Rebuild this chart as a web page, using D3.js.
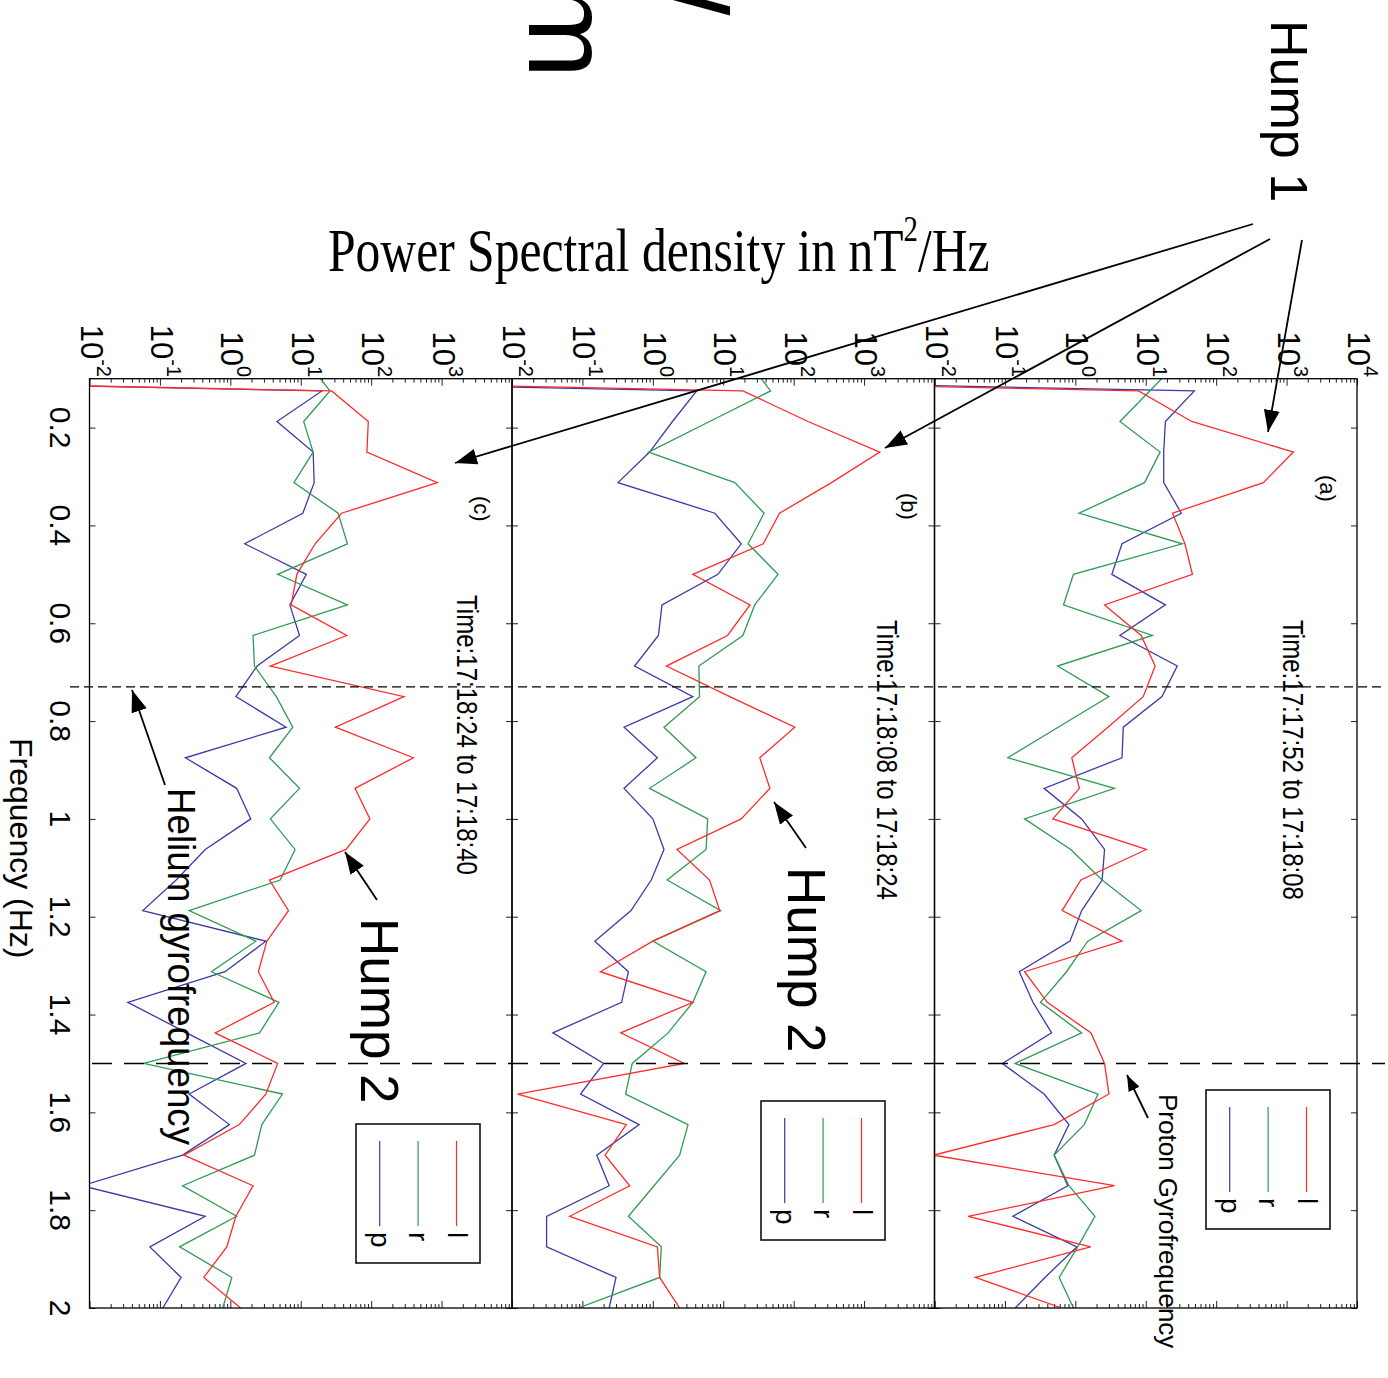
<!DOCTYPE html>
<html>
<head>
<meta charset="utf-8">
<script src="https://cdn.jsdelivr.net/npm/d3@7"></script>
<style>
  body { margin: 0; background: #fff; }
  svg { display: block; }
</style>
</head>
<body>
<div id="chart"></div>
<script>
const width = 1388;
const height = 1378;

// frequency bins (Hz)
const freqs = [0.0625, 0.125, 0.1875, 0.25, 0.3125, 0.375, 0.4375, 0.5, 0.5625, 0.625, 0.6875, 0.75,
  0.8125, 0.875, 0.9375, 1.0, 1.0625, 1.125, 1.1875, 1.25, 1.3125, 1.375, 1.4375, 1.5,
  1.5625, 1.625, 1.6875, 1.75, 1.8125, 1.875, 1.9375, 2.0];

// PSD in nT^2/Hz, panel (a) 17:17:52 to 17:18:08
const lA = [1e-20, 7.9, 45, 1250, 469, 24, 36, 46, 2.6, 8.6, 13.6, 9.2, 2.9, 0.89, 1.14, 0.48,
  10.2, 1.2, 0.65, 4.6, 0.19, 0.40, 1.67, 2.6, 3.0, 0.50, 0.0096, 3.6, 0.030, 1.65, 0.038, 0.64];
const rA = [30, 11.4, 4.3, 16, 9.6, 1.13, 33, 0.94, 0.68, 12.4, 0.56, 3.0, 0.57, 0.11, 3.6, 0.19,
  0.86, 2.4, 8.6, 1.5, 0.75, 0.32, 1.23, 0.14, 2.1, 1.34, 0.50, 0.81, 1.9, 1.08, 0.59, 0.94];
const pA = [1e-20, 49, 19, 18, 18, 32, 4.6, 3.3, 19, 4.3, 28, 17, 4.8, 4.6, 0.36, 1.23,
  2.6, 2.4, 1.23, 0.84, 0.16, 0.25, 0.46, 0.092, 0.36, 0.81, 0.50, 0.78, 0.13, 1.05, 0.37, 0.14];

// panel (b) 17:18:08 to 17:18:24
const lB = [1e-20, 19, 160, 1670, 344, 63, 37, 3.7, 24, 11.5, 1.56, 12.4, 104, 33, 46, 18,
  2.2, 6.4, 8.9, 1.0, 0.18, 3.7, 0.35, 2.8, 0.012, 0.42, 0.21, 0.47, 0.066, 1.16, 1.25, 2.4];
const rB = [22, 47, 6.4, 0.87, 14.6, 38, 22.5, 60, 28, 19, 4.5, 4.6, 1.44, 4.1, 0.90, 6.0,
  5.7, 1.6, 9.2, 1.0, 5.7, 3.7, 1.65, 0.51, 0.41, 3.16, 2.4, 1.04, 0.45, 1.32, 1.25, 0.087];
const pB = [1e-20, 4.2, 1.9, 0.90, 0.32, 7.6, 18, 8.4, 1.35, 1.2, 0.55, 3.7, 0.39, 1.16, 0.39, 1.0,
  1.44, 0.95, 0.49, 0.15, 0.45, 0.36, 0.038, 0.20, 0.094, 0.64, 0.16, 0.24, 0.031, 0.031, 0.30, 0.24];

// panel (c) 17:18:24 to 17:18:40
const lC = [1e-20, 27.5, 91, 87, 870, 38, 16, 8.8, 7.3, 45, 3.7, 293, 31, 398, 59, 96,
  44, 3.6, 6.7, 3.3, 2.5, 4.2, 0.61, 4.7, 3.2, 1.34, 0.22, 2.1, 1.2, 0.89, 0.42, 1.4];
const rC = [12, 26, 11, 15, 8.0, 34, 46, 4.7, 46, 2.1, 2.2, 4.5, 7.7, 3.6, 9.6, 3.7,
  8.3, 5.1, 0.26, 2.3, 0.54, 4.9, 2.6, 0.059, 5.5, 2.8, 2.2, 0.21, 1.23, 0.19, 1.05, 0.78];
const pC = [1e-20, 20, 4.6, 15, 15.5, 10.7, 1.6, 12, 7.0, 9.6, 2.4, 1.2, 6.2, 0.23, 1.23, 1.95,
  0.44, 0.17, 0.057, 3.2, 0.84, 0.035, 0.24, 1.67, 0.26, 0.97, 0.21, 0.0078, 0.44, 0.072, 0.20, 0.11];

const freqTicks = [0.2, 0.4, 0.6, 0.8, 1, 1.2, 1.4, 1.6, 1.8, 2];
const freqTickLabels = ["0.2", "0.4", "0.6", "0.8", "1", "1.2", "1.4", "1.6", "1.8", "2"];
const psdExps = [-2, -1, 0, 1, 2, 3, 4];
const seriesNames = ["l", "r", "p"];
const heliumFreq = 0.73;
const protonFreq = 1.5;

const colors = { l: "#ff2b2b", r: "#2f9b55", p: "#3c3aa4" };
const sans = "'Liberation Sans', Arial, Helvetica, sans-serif";

const plotTop = 378.7, plotBottom = 1308;
const panelW = 422.5;

// panels left to right on the page: (c), (b), (a)
const panels = [
  { id: "c", x0: 89.5, series: { l: lC, r: rC, p: pC }, label: "(c)", time: "Time:17:18:24 to 17:18:40",
    labelPos: [474, 496], timePos: [457, 595], legend: [356, 1124], lastExp: 3 },
  { id: "b", x0: 512, series: { l: lB, r: rB, p: pB }, label: "(b)", time: "Time:17:18:08 to 17:18:24",
    labelPos: [901, 493], timePos: [877, 620], legend: [761, 1101], lastExp: 3 },
  { id: "a", x0: 934.5, series: { l: lA, r: rA, p: pA }, label: "(a)", time: "Time:17:17:52 to 17:18:08",
    labelPos: [1320, 475], timePos: [1283, 620], legend: [1206, 1090], lastExp: 4 }
];

const svg = d3.select("#chart").append("svg")
  .attr("width", width).attr("height", height)
  .attr("font-family", sans);

const defs = svg.append("defs");
defs.append("marker").attr("id", "head")
  .attr("markerUnits", "userSpaceOnUse")
  .attr("viewBox", "0 0 22 16").attr("refX", 22).attr("refY", 8)
  .attr("markerWidth", 22).attr("markerHeight", 16).attr("orient", "auto")
  .append("path").attr("d", "M0,0L22,8L0,16Z").attr("fill", "#000");
defs.append("marker").attr("id", "headSmall")
  .attr("markerUnits", "userSpaceOnUse")
  .attr("viewBox", "0 0 16 12").attr("refX", 16).attr("refY", 6)
  .attr("markerWidth", 16).attr("markerHeight", 12).attr("orient", "auto")
  .append("path").attr("d", "M0,0L16,6L0,12Z").attr("fill", "#000");

const y = d3.scaleLinear().domain([0.1, 2]).range([plotTop, plotBottom]);

// vertical text reading top to bottom
function rotText(parent, x, y0, str, size, anchor) {
  return parent.append("text")
    .attr("transform", `translate(${x},${y0}) rotate(90)`)
    .attr("font-size", size)
    .attr("text-anchor", anchor || "start")
    .attr("fill", "#000")
    .text(str);
}

const minorVals = [];
for (let e = -2; e < 4; e++) for (let m = 2; m <= 9; m++) minorVals.push(m * Math.pow(10, e));

panels.forEach((pn) => {
  const g = svg.append("g");
  const x = d3.scaleLog().domain([1e-2, 1e4]).range([pn.x0, pn.x0 + panelW]);

  defs.append("clipPath").attr("id", "clip-" + pn.id)
    .append("rect").attr("x", pn.x0).attr("y", plotTop)
    .attr("width", panelW).attr("height", plotBottom - plotTop);

  // log ticks top and bottom, pointing inward
  const majorVals = psdExps.map((e) => Math.pow(10, e));
  [[d3.axisTop, plotTop], [d3.axisBottom, plotBottom]].forEach(([ax, yy]) => {
    g.append("g").attr("transform", `translate(0,${yy})`)
      .call(ax(x).tickValues(majorVals).tickSize(-7).tickFormat(""))
      .call((s) => s.select(".domain").remove())
      .selectAll("line").attr("stroke", "#222").attr("stroke-width", 1);
    g.append("g").attr("transform", `translate(0,${yy})`)
      .call(ax(x).tickValues(minorVals).tickSize(-4).tickFormat(""))
      .call((s) => s.select(".domain").remove())
      .selectAll("line").attr("stroke", "#222").attr("stroke-width", 1);
  });

  // frequency ticks on both sides of the panel
  g.append("g").attr("transform", `translate(${pn.x0},0)`)
    .call(d3.axisLeft(y).tickValues(freqTicks).tickSize(-6).tickFormat(""))
    .call((s) => s.select(".domain").remove())
    .selectAll("line").attr("stroke", "#222");
  g.append("g").attr("transform", `translate(${pn.x0 + panelW},0)`)
    .call(d3.axisRight(y).tickValues(freqTicks).tickSize(-6).tickFormat(""))
    .call((s) => s.select(".domain").remove())
    .selectAll("line").attr("stroke", "#222");

  // PSD tick labels
  psdExps.filter((e) => e <= pn.lastExp).forEach((e) => {
    const t = g.append("text")
      .attr("transform", `translate(${x(Math.pow(10, e)) - 9},377) rotate(90)`)
      .attr("text-anchor", "end").attr("font-size", 31);
    t.append("tspan").text("10");
    t.append("tspan").attr("font-size", 20).attr("dy", -16).text(e);
  });

  // series
  const line = d3.line().x((d) => x(d[1])).y((d) => y(d[0]));
  const lines = g.append("g").attr("clip-path", `url(#clip-${pn.id})`);
  seriesNames.slice().reverse().forEach((s) => {
    lines.append("path")
      .datum(freqs.map((f, i) => [f, pn.series[s][i]]))
      .attr("d", line)
      .attr("fill", "none")
      .attr("stroke", colors[s])
      .attr("stroke-width", 1.3)
      .attr("stroke-linejoin", "miter");
  });

  // frame
  g.append("rect").attr("x", pn.x0).attr("y", plotTop)
    .attr("width", panelW).attr("height", plotBottom - plotTop)
    .attr("fill", "none").attr("stroke", "#000").attr("stroke-width", 1.3);

  rotText(g, pn.labelPos[0], pn.labelPos[1], pn.label, 22);
  rotText(g, pn.timePos[0], pn.timePos[1], pn.time, 30)
    .attr("textLength", 280).attr("lengthAdjust", "spacingAndGlyphs");

  // legend
  const [lx, ly] = pn.legend;
  const lg = g.append("g");
  lg.append("rect").attr("x", lx).attr("y", ly).attr("width", 124).attr("height", 139)
    .attr("fill", "#fff").attr("stroke", "#111").attr("stroke-width", 1.6);
  seriesNames.forEach((s, i) => {
    const cx = lx + 100.5 - i * 38.4;
    lg.append("line").attr("x1", cx).attr("x2", cx)
      .attr("y1", ly + 17).attr("y2", ly + 102)
      .attr("stroke", colors[s]).attr("stroke-width", 1.2);
    rotText(lg, cx - 9, ly + 108, s, 28);
  });
});

// gyrofrequency dashed lines
svg.append("line").attr("x1", 70).attr("x2", 1385)
  .attr("y1", y(heliumFreq)).attr("y2", y(heliumFreq))
  .attr("stroke", "#000").attr("stroke-width", 1.4).attr("stroke-dasharray", "9,5");
svg.append("line").attr("x1", 92).attr("x2", 1385)
  .attr("y1", y(protonFreq)).attr("y2", y(protonFreq))
  .attr("stroke", "#000").attr("stroke-width", 1.6).attr("stroke-dasharray", "20,12");

// frequency axis labels
freqTicks.forEach((f, i) => rotText(svg, 50, y(f), freqTickLabels[i], 30, "middle"));
rotText(svg, 10, 738, "Frequency (Hz)", 32);

// title
const title = svg.append("text")
  .attr("transform", "translate(328,271) scale(0.8,1)")
  .attr("font-family", "'Liberation Serif', 'Times New Roman', serif")
  .attr("font-size", 62);
title.append("tspan").text("Power Spectral density in nT");
title.append("tspan").attr("font-size", 36).attr("dy", -30).text("2");
title.append("tspan").attr("dy", 30).text("/Hz");

// annotations
rotText(svg, 1271, 20, "Hump 1", 52);
rotText(svg, 361, 918, "Hump 2", 53);
rotText(svg, 788, 867, "Hump 2", 53);
rotText(svg, 168, 788, "Helium gyrofrequency", 38)
  .attr("textLength", 357).attr("lengthAdjust", "spacingAndGlyphs");
rotText(svg, 1159, 1094, "Proton Gyrofrequency", 26);
rotText(svg, 529, -19, "m", 117);
rotText(svg, 645, -17, "/", 117);

const arrows = [
  { from: [1253, 224], to: [455, 463], head: "head" },
  { from: [1270, 239], to: [885, 448], head: "head" },
  { from: [1302, 240], to: [1268, 432], head: "head" },
  { from: [377, 900], to: [345, 852], head: "head" },
  { from: [806, 848], to: [774, 802], head: "head" },
  { from: [165, 785], to: [132, 690], head: "head" },
  { from: [1148, 1118], to: [1127, 1075], head: "headSmall" }
];
svg.append("g").selectAll("line").data(arrows).join("line")
  .attr("x1", (d) => d.from[0]).attr("y1", (d) => d.from[1])
  .attr("x2", (d) => d.to[0]).attr("y2", (d) => d.to[1])
  .attr("stroke", "#000").attr("stroke-width", 1.8)
  .attr("marker-end", (d) => `url(#${d.head})`);
</script>
</body>
</html>
